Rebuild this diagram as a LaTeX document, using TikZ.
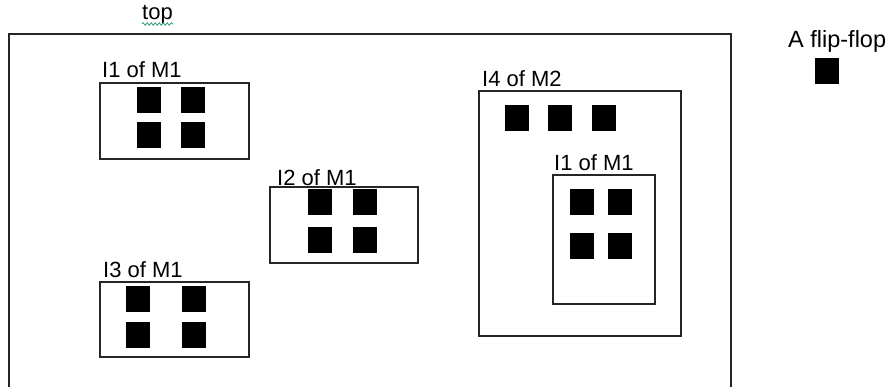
\documentclass[tikz,border=0pt]{standalone}
\usepackage{fontspec}
\setmainfont{Liberation Sans}
\usetikzlibrary{positioning,decorations.pathmorphing}
\definecolor{squiggle}{RGB}{40,150,120}

\begin{document}
\begin{tikzpicture}[x=1pt, y=-1pt,
    inst/.style={draw=black!85, line width=1.2pt, inner sep=0pt},
    ff/.style={fill=black, inner sep=0pt, minimum width=24pt, minimum height=26pt},
    tag/.style={anchor=base west, inner sep=0pt, font=\fontsize{22}{26}\selectfont}]
    \useasboundingbox (0,0) rectangle (892,386);

    % top level, runs off the bottom edge
    \coordinate (tl) at (9,34);
    \coordinate (tr) at (731,34);
    \draw[draw=black!85, line width=1.2pt] (tl |- 0,390) -- (tl) -- (tr) -- (tr |- 0,390);
    \node[tag] (ltop) at (142,19) {top};
    \draw[squiggle, line width=0.7pt, decorate,
          decoration={snake, amplitude=1.3pt, segment length=4pt}]
          ([yshift=-5pt]ltop.base west) -- ([yshift=-5pt]ltop.base east);

    % three instances of M1
    \node[inst, minimum width=149pt, minimum height=76pt] (i1) at (174.5,121) {};
    \node[inst, minimum width=148pt, minimum height=76pt] (i2) at (344,225) {};
    \node[inst, minimum width=149pt, minimum height=75pt] (i3) at (174.5,319.5) {};
    \node[tag] (l1) at (102,77)  {I1 of M1};
    \node[tag] (l2) at (277,185) {I2 of M1};
    \node[tag] (l3) at (103,277) {I3 of M1};

    \foreach \x in {149,193} \foreach \y in {100,135}
        \node[ff] (i1-\x-\y) at (\x,\y) {};
    \foreach \x in {319.5,364.5} \foreach \y in {202,240}
        \node[ff] (i2-\x-\y) at (\x,\y) {};
    \foreach \x in {137.5,193.5} \foreach \y in {299,334.5}
        \node[ff] (i3-\x-\y) at (\x,\y) {};

    % M2 holds three flip-flops and one M1
    \node[inst, minimum width=202pt, minimum height=245pt] (i4) at (580,213.5) {};
    \node[tag] (l4) at (482,86) {I4 of M2};
    \foreach \x in {517,560,603.5}
        \node[ff] (i4-\x) at (\x,117.5) {};

    \node[inst, minimum width=102pt, minimum height=129pt] (i41) at (604,239.5) {};
    \node[tag] (l41) at (554,170) {I1 of M1};
    \foreach \x in {581.5,620} \foreach \y in {202,245.5}
        \node[ff] (i41-\x-\y) at (\x,\y) {};

    % legend
    \node[tag, font=\fontsize{23.5}{28}\selectfont] (lff) at (788,47) {A flip-flop};
    \node[ff] (ff0) at (826.5,71) {};
\end{tikzpicture}
\end{document}
